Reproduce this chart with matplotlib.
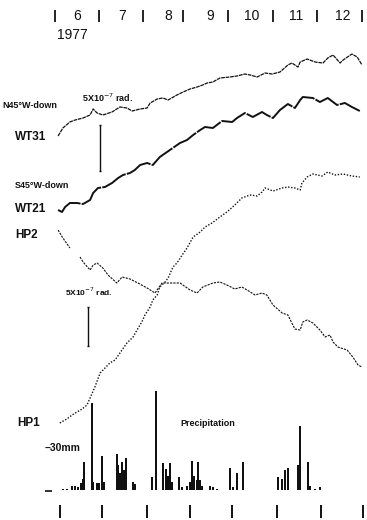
import matplotlib.pyplot as plt
import numpy as np

plt.rcParams['font.family'] = ['Liberation Sans', 'DejaVu Sans']

# time axis in months (6 = start of June, 13 = end of December 1977)
months = ['6', '7', '8', '9', '10', '11', '12']
month_centers = [6.50, 7.53, 8.58, 9.53, 10.49, 11.49, 12.57]
month_bounds = [6.0, 7.0, 8.0, 8.92, 9.94, 10.97, 11.97, 13.0]
bottom_ticks = [6.11, 7.07, 8.10, 9.08, 10.04, 11.06, 12.06, 13.02]

# WT31 tilt, N45W-down (chart level)
wt31_t = [6.07, 6.18, 6.34, 6.46, 6.64, 6.80, 6.87, 6.96, 7.09, 7.30, 7.48, 7.64,
          7.76, 7.94, 8.10, 8.17, 8.33, 8.46, 8.58, 8.78, 8.92, 9.08, 9.24, 9.37,
          9.47, 9.60, 9.76, 9.99, 10.15, 10.33, 10.45, 10.61, 10.79, 10.95, 11.13,
          11.31, 11.40, 11.54, 11.59, 11.75, 11.93, 12.11, 12.22, 12.34, 12.50,
          12.57, 12.77, 12.89, 13.00]
wt31_v = [384, 392, 398, 400, 402, 405, 411, 407, 405, 408, 413, 412,
          409, 411, 412, 417, 421, 422, 420, 425, 428, 431, 433, 435,
          437, 438, 442, 443, 444, 446, 445, 443, 447, 446, 448,
          455, 457, 453, 458, 461, 458, 457, 462, 465, 457,
          460, 466, 463, 455]

# WT21 tilt, S45W-down
wt21_t = [6.07, 6.16, 6.23, 6.34, 6.50, 6.64, 6.80, 6.87, 6.98, 7.14, 7.30, 7.44,
          7.55, 7.71, 7.82, 7.94, 8.10, 8.23, 8.39, 8.62, 8.85, 9.01, 9.15, 9.31,
          9.42, 9.60, 9.81, 10.04, 10.15, 10.33, 10.51, 10.72, 10.83, 10.97, 11.13,
          11.31, 11.47, 11.59, 11.65, 11.88, 12.04, 12.22, 12.43, 12.61, 12.77, 12.95]
wt21_v = [310, 308, 313, 317, 317, 316, 320, 327, 332, 333, 337, 342,
          345, 347, 350, 355, 357, 355, 363, 370, 377, 380, 385, 390,
          393, 392, 399, 398, 402, 407, 403, 408, 405, 402, 410,
          416, 412, 420, 423, 422, 418, 422, 415, 417, 413, 409]

# HP2 tilt
hp2_t = [6.07, 6.18, 6.34, 6.45, 6.57, 6.64, 6.80, 6.87, 6.96, 7.09, 7.21, 7.41,
         7.53, 7.71, 7.89, 8.10, 8.28, 8.44, 8.55, 8.85, 9.08, 9.24, 9.37, 9.60,
         9.76, 9.92, 10.10, 10.26, 10.38, 10.56, 10.72, 10.83, 10.97, 11.18, 11.31,
         11.40, 11.47, 11.59, 11.65, 11.75, 11.88, 12.04, 12.16, 12.27, 12.34,
         12.45, 12.66, 12.79, 12.91, 13.00]
hp2_v = [290, 282, 272, np.nan, 263, 258, 250, 255, 257, 252, 245, 237,
         243, 241, 237, 232, 227, 237, 237, 237, 230, 227, 233, 237,
         238, 235, 231, 233, 230, 225, 227, 225, 215, 207, 205,
         197, 191, 190, 198, 200, 197, 190, 183, 185, 178,
         173, 170, 163, 155, 153]

# HP1 tilt
hp1_t = [6.11, 6.27, 6.39, 6.50, 6.62, 6.73, 6.80, 6.91, 6.96, 7.03, 7.14, 7.25,
         7.37, 7.48, 7.64, 7.78, 7.87, 7.98, 8.05, 8.17, 8.23, 8.33, 8.39, 8.51,
         8.58, 8.69, 8.78, 8.90, 9.01, 9.15, 9.31, 9.42, 9.58, 9.76, 9.92, 10.10,
         10.26, 10.45, 10.61, 10.72, 10.79, 10.97, 11.18, 11.31, 11.47, 11.59,
         11.63, 11.75, 11.88, 12.09, 12.22, 12.38, 12.57, 12.77, 12.95]
hp1_v = [97, 101, 105, 108, 111, 115, 122, 133, 139, 147, 152, 157,
         160, 167, 177, 183, 190, 198, 205, 213, 220, 225, 233, 238,
         242, 253, 257, 265, 272, 283, 288, 293, 297, 303, 308, 315,
         322, 325, 324, 328, 332, 329, 332, 333, 332, 330,
         337, 343, 346, 344, 348, 345, 346, 344, 343]

# daily precipitation (mm)
rain_t = [6.18, 6.27, 6.39, 6.46, 6.52, 6.59, 6.64, 6.66, 6.84, 6.87, 6.96, 7.00,
          7.07, 7.12, 7.41, 7.44, 7.48, 7.53, 7.57, 7.62, 7.78, 7.82, 8.21, 8.30,
          8.46, 8.53, 8.58, 8.62, 8.67, 8.83, 8.90, 9.01, 9.08, 9.12, 9.17, 9.24,
          9.26, 9.31, 9.35, 9.53, 9.60, 9.69, 9.99, 10.06, 10.15, 10.29, 11.08,
          11.18, 11.24, 11.31, 11.54, 11.59, 11.77, 11.81, 11.93, 12.04]
rain_mm = [1, 1, 3, 3, 2, 5, 8, 20, 62, 6, 5, 5,
           24, 6, 26, 18, 12, 20, 14, 23, 6, 4, 9, 71,
           19, 15, 10, 19, 6, 9, 2, 3, 6, 21, 10, 7,
           20, 7, 3, 3, 2, 1, 16, 2, 12, 20, 9,
           8, 14, 16, 18, 46, 20, 3, 1, 2]

rain_base = 30
mm_scale = 1.4

fig = plt.figure(figsize=(3.67, 5.2), dpi=100)
ax = fig.add_axes([0, 0, 1, 1])
ax.set_xlim(4.746, 13.114)
ax.set_ylim(0, 520)
ax.axis('off')

ink = '#111111'

# month header
ax.vlines(month_bounds, 498, 510, color=ink, lw=1.3)
for c, m in zip(month_centers, months):
    ax.text(c, 504, m, ha='center', va='center', fontsize=10, color=ink)
ax.text(6.05, 485, '1977', ha='left', va='center', fontsize=10, color=ink)

# tilt traces
ax.plot(wt31_t, wt31_v, color=ink, lw=0.9, ls=(0, (3, 0.6)))
ax.plot(wt21_t, wt21_v, color=ink, lw=1.4, ls=(0, (14, 0.6)))
ax.plot(hp2_t, hp2_v, color=ink, lw=0.8, ls=(0, (2, 1)))
ax.plot(hp1_t, hp1_v, color=ink, lw=1.0, ls=(0, (1, 1.2)))

# scale bars
for x, lo, hi in [(7.03, 349, 395), (6.75, 174, 213)]:
    ax.vlines(x, lo, hi, color=ink, lw=1.0)
    ax.hlines([lo, hi], x - 0.03, x + 0.03, color=ink, lw=1.0)

# labels
ax.text(4.79, 414, 'N45°W-down', fontsize=6.5, fontweight='bold', va='center', color=ink)
ax.text(6.62, 422, r'5X10$^{-7}$ rad.', fontsize=6.5, fontweight='bold', va='center', color=ink)
ax.text(5.09, 383, 'WT31', fontsize=8.5, fontweight='bold', va='center', color=ink)
ax.text(5.09, 335, 'S45°W-down', fontsize=6.5, fontweight='bold', va='center', color=ink)
ax.text(5.09, 311, 'WT21', fontsize=8.5, fontweight='bold', va='center', color=ink)
ax.text(5.09, 285, 'HP2', fontsize=8.5, fontweight='bold', va='center', color=ink)
ax.text(6.23, 228, r'5X10$^{-7}$ rad.', fontsize=6, fontweight='bold', va='center', color=ink)
ax.text(5.13, 97, 'HP1', fontsize=8.5, fontweight='bold', va='center', color=ink)
ax.text(8.85, 97, 'Precipitation', fontsize=6.5, fontweight='bold', va='center', color=ink)

# precipitation bars
ax.bar(rain_t, np.array(rain_mm) * mm_scale, bottom=rain_base, width=0.038,
       color=ink, linewidth=0)
ax.text(5.77, rain_base + 30 * mm_scale, '–30mm', fontsize=7.5, fontweight='bold',
        va='center', color=ink)
ax.hlines(rain_base - 1, 5.77, 5.93, color=ink, lw=1.2)

# bottom month ticks
ax.vlines(bottom_ticks, 2, 15, color=ink, lw=1.4)

fig.savefig('out.png', dpi=100)
